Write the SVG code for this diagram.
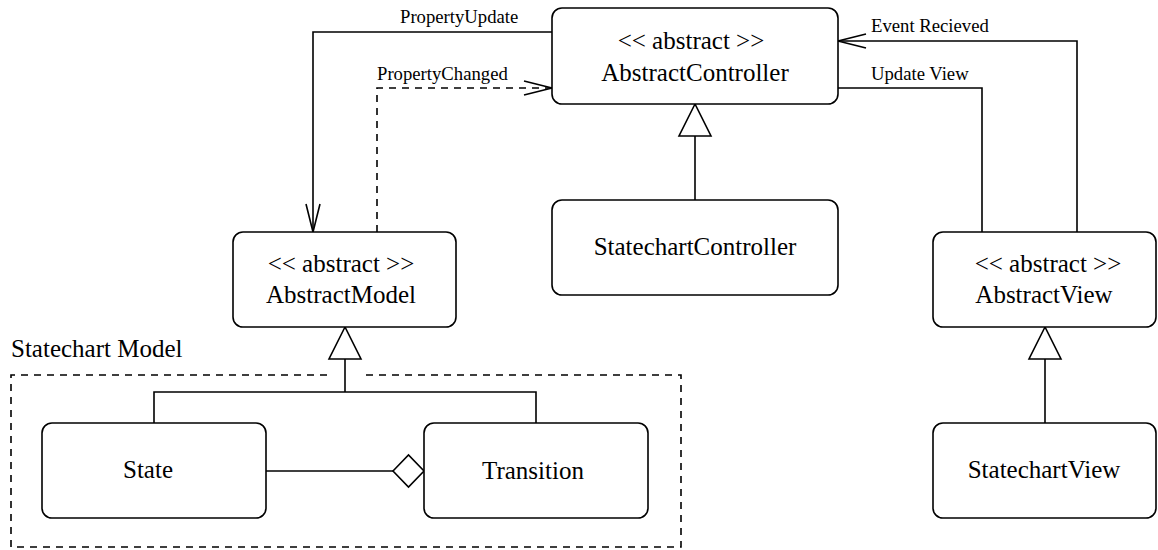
<svg xmlns="http://www.w3.org/2000/svg" width="1158" height="550" viewBox="0 0 1158 550">
  <style>
    .box { fill: #fff; stroke: #000; stroke-width: 1.6; }
    .t { font-family: "Liberation Serif", "Times New Roman", serif; font-size: 25px; fill: #000; }
    .lbl { font-family: "Liberation Serif", "Times New Roman", serif; font-size: 18.7px; fill: #000; }
    .ln { fill: none; stroke: #000; stroke-width: 1.6; }
    .dash { fill: none; stroke: #000; stroke-width: 1.6; stroke-dasharray: 7 6; }
    .tri { fill: #fff; stroke: #000; stroke-width: 1.6; }
  </style>
  <defs>
    <marker id="open" markerUnits="userSpaceOnUse" markerWidth="32" markerHeight="18" viewBox="0 0 32 18" refX="29" refY="9" orient="auto">
      <path d="M1,2 L29,9 L1,16" fill="none" stroke="#000" stroke-width="1.6"/>
    </marker>
  </defs>
  <rect width="1158" height="550" fill="#fff"/>

  <!-- package frame -->
  <g id="statechart-model-frame">
    <path class="dash" d="M327,375 L11,375 L11,547 L681,547 L681,375 L360,375"/>
    <text class="t" x="11" y="357">Statechart Model</text>
  </g>

  <g id="connectors">
    <!-- PropertyUpdate -->
    <polyline class="ln" points="552,32 313,32 313,232" marker-end="url(#open)"/>
    <text class="lbl" x="400" y="23">PropertyUpdate</text>
    <!-- PropertyChanged -->
    <polyline class="dash" points="377,232 377,88 552,88" marker-end="url(#open)"/>
    <text class="lbl" x="377" y="80">PropertyChanged</text>
    <!-- Update View -->
    <polyline class="ln" points="838,88 982,88 982,232"/>
    <text class="lbl" x="871" y="80">Update View</text>
    <!-- Event Recieved -->
    <polyline class="ln" points="1077,232 1077,41 838,41" marker-end="url(#open)"/>
    <text class="lbl" x="871" y="32">Event Recieved</text>
    <!-- generalization: controller -->
    <line class="ln" x1="695" y1="136" x2="695" y2="200"/>
    <polygon class="tri" points="695,104 679,136 711,136"/>
    <!-- generalization: model -->
    <polyline class="ln" points="154,423 154,392 536,392 536,423"/>
    <line class="ln" x1="345" y1="359" x2="345" y2="392"/>
    <polygon class="tri" points="345,327 329,359 361,359"/>
    <!-- generalization: view -->
    <line class="ln" x1="1045" y1="359" x2="1045" y2="423"/>
    <polygon class="tri" points="1045,327 1029,359 1061,359"/>
    <!-- aggregation -->
    <line class="ln" x1="266" y1="471" x2="393" y2="471"/>
    <polygon class="tri" points="393,471 408.5,455 424,471 408.5,487"/>
  </g>

  <g id="AbstractController">
    <rect class="box" x="552" y="8" width="286" height="96" rx="10"/>
    <text class="t" x="691" y="49" text-anchor="middle">&lt;&lt; abstract &gt;&gt;</text>
    <text class="t" x="695" y="81" text-anchor="middle">AbstractController</text>
  </g>
  <g id="StatechartController">
    <rect class="box" x="552" y="200" width="286" height="95" rx="10"/>
    <text class="t" x="695" y="255" text-anchor="middle">StatechartController</text>
  </g>
  <g id="AbstractModel">
    <rect class="box" x="233" y="232" width="223" height="95" rx="10"/>
    <text class="t" x="341" y="272" text-anchor="middle">&lt;&lt; abstract &gt;&gt;</text>
    <text class="t" x="341" y="303" text-anchor="middle">AbstractModel</text>
  </g>
  <g id="AbstractView">
    <rect class="box" x="933" y="232" width="223" height="95" rx="10"/>
    <text class="t" x="1048" y="272" text-anchor="middle">&lt;&lt; abstract &gt;&gt;</text>
    <text class="t" x="1044" y="303" text-anchor="middle">AbstractView</text>
  </g>
  <g id="StatechartView">
    <rect class="box" x="933" y="423" width="223" height="95" rx="10"/>
    <text class="t" x="1044" y="478" text-anchor="middle">StatechartView</text>
  </g>
  <g id="State">
    <rect class="box" x="42" y="423" width="224" height="95" rx="10"/>
    <text class="t" x="148" y="478" text-anchor="middle">State</text>
  </g>
  <g id="Transition">
    <rect class="box" x="424" y="423" width="224" height="95" rx="10"/>
    <text class="t" x="533" y="479" text-anchor="middle">Transition</text>
  </g>
</svg>
